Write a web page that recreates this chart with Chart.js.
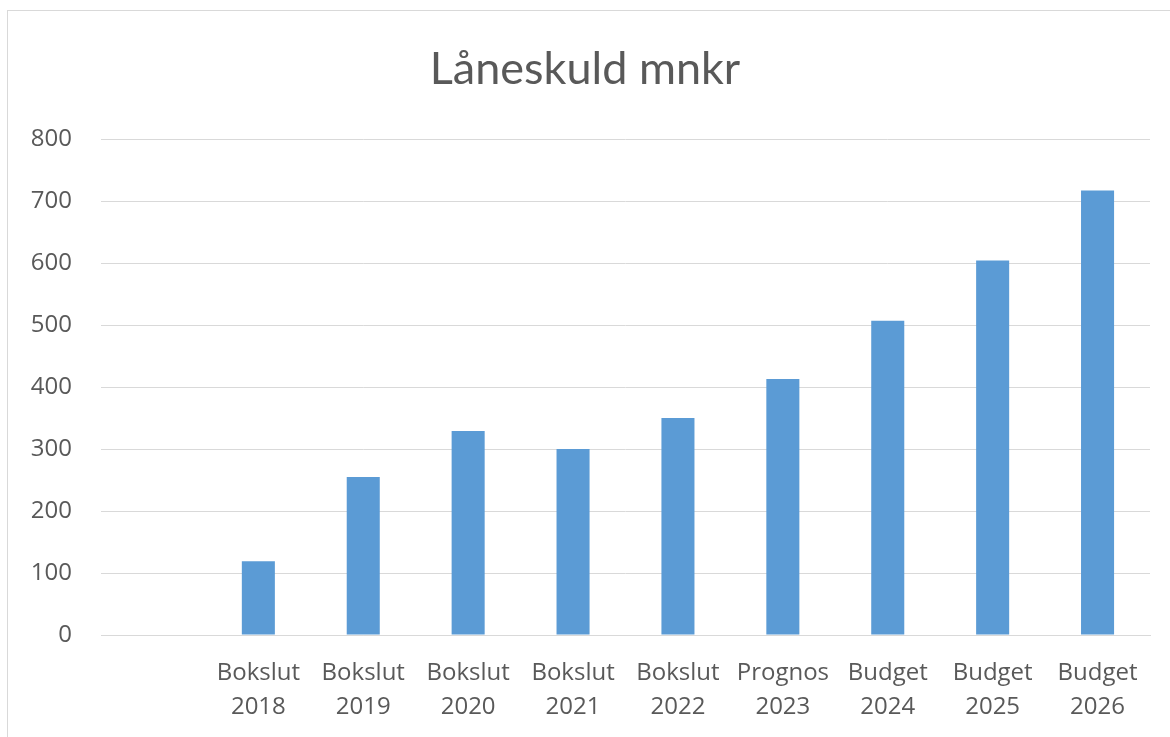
<!DOCTYPE html>
<html lang="sv">
<head>
  <meta charset="UTF-8" />
  <title>Låneskuld mnkr</title>
  <script src="https://cdn.jsdelivr.net/npm/chart.js"></script>
  <style>
    html, body {
      margin: 0;
      padding: 0;
      background: #ffffff;
    }
    #wrap {
      position: relative;
      width: 1170px;
      height: 737px;
      overflow: hidden;
    }
    #frame {
      position: absolute;
      left: 7px;
      top: 10px;
      width: 1200px;
      height: 800px;
      border-left: 1px solid #d9d9d9;
      border-top: 1px solid #d9d9d9;
    }
    canvas {
      position: absolute;
      left: 0;
      top: 0;
    }
  </style>
</head>
<body>

<div id="wrap">
  <div id="frame"></div>
  <canvas id="loanChart" width="1170" height="737"></canvas>
</div>

<script>
  // first category is left empty in the original chart
  const categories = [
    '',
    ['Bokslut', '2018'],
    ['Bokslut', '2019'],
    ['Bokslut', '2020'],
    ['Bokslut', '2021'],
    ['Bokslut', '2022'],
    ['Prognos', '2023'],
    ['Budget', '2024'],
    ['Budget', '2025'],
    ['Budget', '2026']
  ];
  const loanDebt = [null, 119, 255, 329, 300, 350, 413, 507, 604, 717];
  const yTicks = [0, 100, 200, 300, 400, 500, 600, 700, 800];

  const textGrey = '#595959';
  const gridGrey = '#d9d9d9';

  const ctx = document.getElementById('loanChart').getContext('2d');
  const chart = new Chart(ctx, {
    type: 'bar',
    data: {
      labels: categories,
      datasets: [{
        label: 'Låneskuld mnkr',
        data: loanDebt,
        backgroundColor: '#5b9bd5',
        borderWidth: 0,
        barPercentage: 0.315,
        categoryPercentage: 1
      }]
    },
    options: {
      responsive: false,
      animation: false,
      layout: {
        padding: { left: 20, right: 20, top: 0, bottom: 0 }
      },
      plugins: {
        legend: { display: false },
        tooltip: { enabled: false },
        title: {
          display: true,
          text: 'Låneskuld mnkr',
          color: textGrey,
          font: { family: 'Lato', size: 45, weight: 'normal', lineHeight: 1.2 },
          padding: { top: 42, bottom: 43 }
        }
      },
      scales: {
        x: {
          grid: { display: false, drawTicks: false },
          border: { display: true, color: gridGrey, width: 1 },
          ticks: {
            color: textGrey,
            font: { family: 'Open Sans', size: 24, lineHeight: 34 / 24 },
            padding: 21,
            maxRotation: 0,
            autoSkip: false
          },
          afterFit: (scale) => { scale.height = 102; }
        },
        y: {
          min: 0,
          max: 800,
          afterBuildTicks: (scale) => {
            scale.ticks = yTicks.map(v => ({ value: v }));
          },
          grid: { color: gridGrey, lineWidth: 1, drawTicks: false },
          border: { display: false },
          ticks: {
            color: textGrey,
            font: { family: 'Open Sans', size: 24 },
            padding: 29
          },
          afterFit: (scale) => { scale.width = 81; }
        }
      }
    }
  });
</script>

</body>
</html>
